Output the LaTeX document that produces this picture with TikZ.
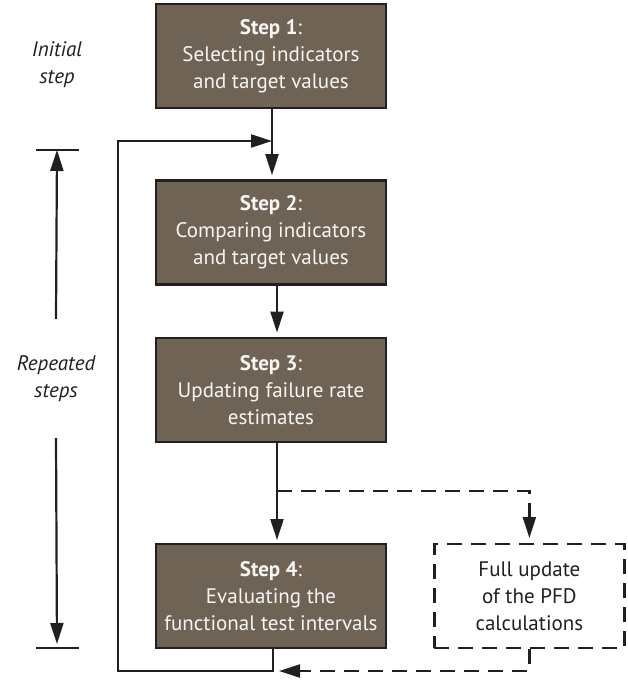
\documentclass[tikz,border=0pt]{standalone}
\usepackage{fontspec}
\setmainfont{PT Sans}
\usetikzlibrary{arrows.meta,positioning}
\definecolor{boxbrown}{RGB}{111,99,85}
\definecolor{inkdark}{RGB}{35,31,32}
\tikzset{
  basic/.style   = {draw=inkdark, line width=2.4pt, rectangle, align=center,
                   font=\fontsize{21pt}{27pt}\selectfont, minimum height=104pt, inner sep=2pt},
  stepbox/.style = {basic, fill=boxbrown, text=white!94!boxbrown, minimum width=230pt},
  fullbox/.style = {basic, dash pattern=on 15pt off 9pt, text=inkdark, minimum width=190pt},
  side/.style    = {align=center, text=inkdark, font=\fontsize{21pt}{27pt}\selectfont\itshape},
  arr/.style     = {draw=inkdark, line width=2.2pt, -{Triangle[length=21pt,width=13pt]}},
  darr/.style    = {arr, dash pattern=on 15pt off 9pt}
}

\begin{document}
\begin{tikzpicture}[x=1pt,y=-1pt]
\useasboundingbox (0,0) rectangle (628,681);
\node[stepbox] (s1) at (271,56) {\textbf{Step 1}:\\Selecting indicators\\and target values};
\node[stepbox, below=70pt of s1] (s2) {\textbf{Step 2}:\\Comparing indicators\\and target values};
\node[stepbox, below=51pt of s2] (s3) {\textbf{Step 3}:\\Updating failure rate\\estimates};
\node[stepbox, below=100pt of s3] (s4) {\textbf{Step 4}:\\Evaluating the\\functional test intervals};
\node[fullbox, right=46pt of s4] (full) {Full update\\of the PFD\\calculations};

\node[side] (init) at (57,65) {Initial\\step};
\node[side, minimum height=119pt] (rep) at (56,378.5) {Repeated\\steps};
\coordinate (rtop) at (57,150);
\coordinate (rbot) at (57,648);
\draw[arr] (rep.north) -- (rtop);
\draw[arr, shorten >=4pt] (rep.south) -- (rbot);
\draw[draw=inkdark, line width=2.2pt] ([xshift=-21pt]rtop) -- ([xshift=22pt]rtop);
\draw[draw=inkdark, line width=2.2pt] ([xshift=-21pt]rbot) -- ([xshift=22pt]rbot);

\coordinate (join) at (272,141);
\coordinate (fork) at (277,491);
\coordinate (loopb) at (118,671);
\coordinate (loopt) at (118,141);
\coordinate (back) at (279,671);

\draw[arr, shorten >=4pt] ([xshift=1pt]s1.south) -- ([xshift=1pt]s2.north);
\draw[arr, shorten >=4pt] ([xshift=6pt]s2.south) -- ([xshift=6pt]s3.north);
\draw[arr, shorten >=3pt] ([xshift=6pt]s3.south) -- ([xshift=6pt]s4.north);
\draw[darr, shorten >=5pt] (fork) -| (full.north);
\draw[darr] (full.south) |- (back);
\draw[arr] ([xshift=2pt]s4.south) |- (loopb) -- (loopt) -- (join);
\end{tikzpicture}
\end{document}
